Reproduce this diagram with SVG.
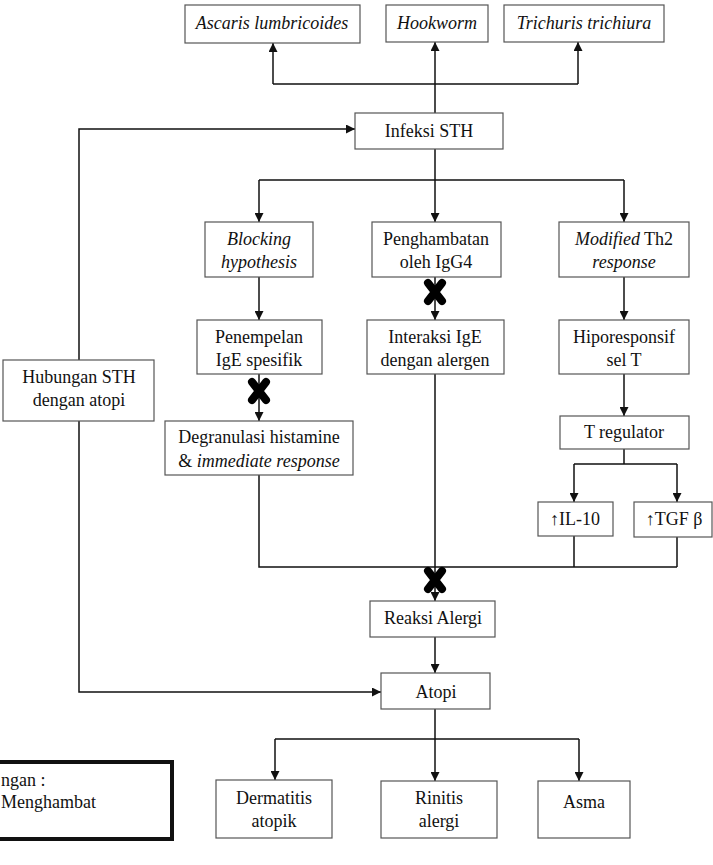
<svg xmlns="http://www.w3.org/2000/svg" width="713" height="865" viewBox="0 0 713 865">
<style>
.box{fill:#fff;stroke:#555;stroke-width:1.2}
.t{font-family:"Liberation Serif","Times New Roman",serif;font-size:18px;fill:#111;text-anchor:middle}
.tl{font-family:"Liberation Serif","Times New Roman",serif;font-size:18px;fill:#111}
.i{font-style:italic}
.c{fill:none;stroke:#111;stroke-width:1.5}
.ca{fill:none;stroke:#111;stroke-width:1.5;marker-end:url(#ah)}
.leg{fill:#fff;stroke:#111;stroke-width:4}
</style>
<defs>
<marker id="ah" markerUnits="userSpaceOnUse" markerWidth="10" markerHeight="9" refX="9" refY="4.5" orient="auto">
<path d="M0,0 L9,4.5 L0,9 z" fill="#111"/>
</marker>
<g id="xm"><path d="M-7,-9 L7,9 M7,-9 L-7,9" stroke="#000" stroke-width="8" stroke-linecap="round"/></g>
</defs>
<rect width="713" height="865" fill="#fff"/>

<g id="connectors">
<path class="c" d="M435,113 V84 M273,84 H578"/>
<path class="ca" d="M273,84 V43"/>
<path class="ca" d="M435,84 V42"/>
<path class="ca" d="M578,84 V42"/>
<path class="c" d="M435,149 V180 M259,180 H624"/>
<path class="ca" d="M259,180 V222"/>
<path class="ca" d="M435,180 V222"/>
<path class="ca" d="M624,180 V222"/>
<path class="ca" d="M259,277 V320"/>
<path class="ca" d="M259,374 V421"/>
<path class="ca" d="M435,277 V320"/>
<path class="ca" d="M624,277 V320"/>
<path class="ca" d="M624,374 V416"/>
<path class="c" d="M624,449 V464 M574,464 H677"/>
<path class="ca" d="M574,464 V502"/>
<path class="ca" d="M677,464 V502"/>
<path class="c" d="M259,475 V567 H677 M574,536 V567 M677,537 V567"/>
<path class="ca" d="M435,374 V601"/>
<path class="ca" d="M435,637 V673"/>
<path class="c" d="M435,709 V739 M275,739 H579"/>
<path class="ca" d="M275,739 V780"/>
<path class="ca" d="M435,739 V781"/>
<path class="ca" d="M579,739 V781"/>
<path class="ca" d="M79,360 V129 H355"/>
<path class="ca" d="M79,421 V692 H381"/>
</g>

<g id="blocks">
<use href="#xm" x="435" y="292"/>
<use href="#xm" x="259" y="391"/>
<use href="#xm" x="435" y="580"/>
</g>

<g id="ascaris"><rect class="box" x="185" y="5" width="175" height="38"/><text class="t i" x="272" y="29">Ascaris lumbricoides</text></g>
<g id="hookworm"><rect class="box" x="386" y="5" width="102" height="37"/><text class="t i" x="437" y="29">Hookworm</text></g>
<g id="trichuris"><rect class="box" x="504" y="5" width="160" height="37"/><text class="t i" x="584" y="29">Trichuris trichiura</text></g>
<g id="infeksi"><rect class="box" x="355" y="113" width="148" height="36"/><text class="t" x="429" y="137">Infeksi STH</text></g>

<g id="blocking"><rect class="box" x="205" y="222" width="108" height="55"/><text class="t i" x="259" y="245">Blocking</text><text class="t i" x="259" y="268">hypothesis</text></g>
<g id="penghambatan"><rect class="box" x="372" y="222" width="129" height="55"/><text class="t" x="436" y="245">Penghambatan</text><text class="t" x="436" y="268">oleh IgG4</text></g>
<g id="modified"><rect class="box" x="559" y="222" width="130" height="55"/><text class="t" x="624" y="245"><tspan class="i">Modified</tspan> Th2</text><text class="t i" x="624" y="268">response</text></g>

<g id="penempelan"><rect class="box" x="197" y="320" width="125" height="54"/><text class="t" x="259" y="343">Penempelan</text><text class="t" x="259" y="366">IgE spesifik</text></g>
<g id="interaksi"><rect class="box" x="367" y="320" width="137" height="54"/><text class="t" x="435" y="343">Interaksi IgE</text><text class="t" x="435" y="366">dengan alergen</text></g>
<g id="hiporesponsif"><rect class="box" x="559" y="320" width="130" height="54"/><text class="t" x="624" y="343">Hiporesponsif</text><text class="t" x="624" y="366">sel T</text></g>

<g id="hubungan"><rect class="box" x="3" y="360" width="151" height="61"/><text class="t" x="79" y="383">Hubungan STH</text><text class="t" x="79" y="406">dengan atopi</text></g>
<g id="degranulasi"><rect class="box" x="165" y="421" width="188" height="54"/><text class="t" x="259" y="443">Degranulasi histamine</text><text class="t" x="259" y="467">&amp; <tspan class="i">immediate response</tspan></text></g>
<g id="tregulator"><rect class="box" x="560" y="416" width="129" height="33"/><text class="t" x="624" y="438">T regulator</text></g>
<g id="il10"><rect class="box" x="538" y="502" width="75" height="34"/><text class="t" x="575" y="525">↑IL-10</text></g>
<g id="tgf"><rect class="box" x="634" y="502" width="78" height="35"/><text class="t" x="674" y="525">↑TGF β</text></g>

<g id="reaksi"><rect class="box" x="370" y="601" width="125" height="36"/><text class="t" x="433" y="624">Reaksi Alergi</text></g>
<g id="atopi"><rect class="box" x="381" y="673" width="109" height="36"/><text class="t" x="436" y="698">Atopi</text></g>

<g id="dermatitis"><rect class="box" x="216" y="780" width="116" height="58"/><text class="t" x="274" y="804">Dermatitis</text><text class="t" x="274" y="827">atopik</text></g>
<g id="rinitis"><rect class="box" x="381" y="781" width="116" height="57"/><text class="t" x="439" y="804">Rinitis</text><text class="t" x="439" y="827">alergi</text></g>
<g id="asma"><rect class="box" x="538" y="781" width="92" height="57"/><text class="t" x="584" y="808">Asma</text></g>

<g id="legend"><rect class="leg" x="-10" y="762" width="182" height="77"/><text class="tl" x="1" y="786">ngan :</text><text class="tl" x="1" y="808">Menghambat</text></g>
</svg>
